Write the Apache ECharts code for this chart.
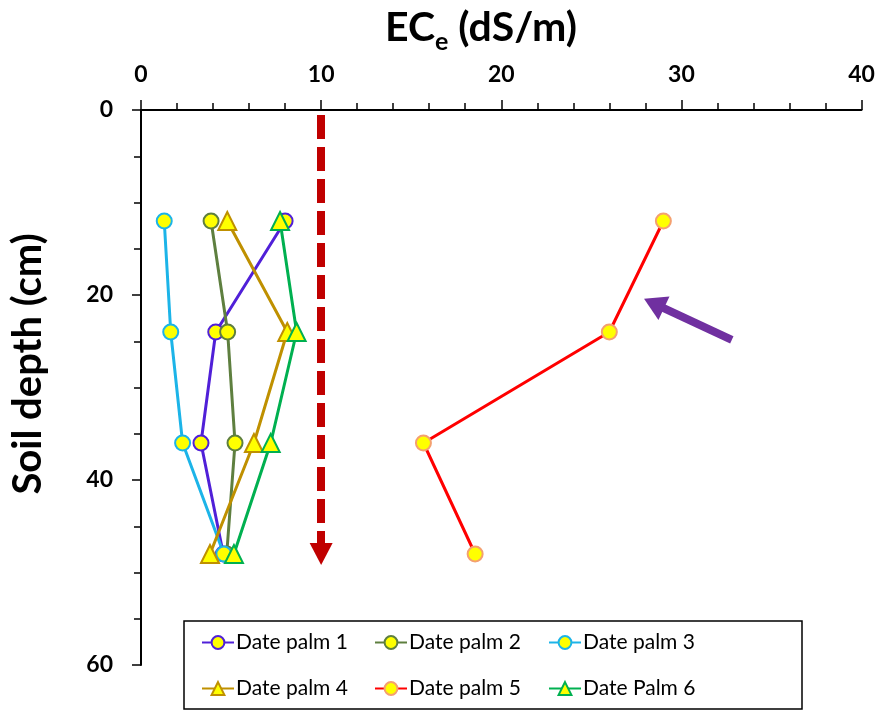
<!DOCTYPE html>
<html>
<head>
<meta charset="utf-8">
<script src="https://cdn.jsdelivr.net/npm/echarts@6/dist/echarts.min.js"></script>
<style>
html,body{margin:0;padding:0;background:#fff;}
#chart{width:879px;height:711px;}
</style>
</head>
<body>
<div id="chart"></div>
<script>
// Data
var depths = [12, 24, 36, 48];
var seriesNames = ['Date palm 1', 'Date palm 2', 'Date palm 3', 'Date palm 4', 'Date palm 5', 'Date Palm 6'];
var palm1 = [8.0, 4.15, 3.33, 4.57];
var palm2 = [3.89, 4.81, 5.22, 4.76];
var palm3 = [1.29, 1.65, 2.31, 4.6];
var palm4 = [4.79, 8.12, 6.27, 3.83];
var palm5 = [29.0, 26.0, 15.68, 18.55];
var palm6 = [7.72, 8.64, 7.2, 5.16];
var xTicks = [0, 10, 20, 30, 40];
var yTicks = [0, 20, 40, 60];
var thresholdEC = 10;
var thresholdDepth = [0.55, 48];
var arrowFrom = [32.8, 24.86];
var arrowTo = [28.48, 20.92];

var values = [palm1, palm2, palm3, palm4, palm5, palm6];
var lineColors = ['#5020D8', '#5E7F3F', '#1CB4E8', '#BF9000', '#FF0000', '#00B050'];
var borderColors = ['#5020D8', '#5E7F3F', '#1CB4E8', '#BF9000', '#F4A070', '#00B050'];
var symbols = ['circle', 'circle', 'circle', 'triangle', 'circle', 'triangle'];

var FONT = 'Lato';

function pairs(v) {
  return v.map(function (x, i) { return [x, depths[i]]; });
}

var series = values.map(function (v, i) {
  return {
    name: seriesNames[i],
    type: 'line',
    data: pairs(v),
    symbol: symbols[i],
    symbolSize: symbols[i] === 'triangle' ? 18 : 15,
    showAllSymbol: true,
    lineStyle: { color: lineColors[i], width: 3 },
    itemStyle: { color: '#FFFF00', borderColor: borderColors[i], borderWidth: 2 },
    z: 3
  };
});

series.push({
  name: 'annotations',
  type: 'line',
  data: [],
  markLine: {
    silent: true,
    animation: false,
    label: { show: false },
    emphasis: { disabled: true },
    data: [
      [
        { coord: [thresholdEC, thresholdDepth[0]], symbol: 'none',
          lineStyle: { color: '#C00000', width: 8, type: [24, 8] } },
        { coord: [thresholdEC, thresholdDepth[1]], symbol: 'triangle', symbolSize: [23, 22] }
      ],
      [
        { coord: arrowFrom, symbol: 'none',
          lineStyle: { color: '#7030A0', width: 8, type: 'solid' } },
        { coord: arrowTo, symbol: 'triangle', symbolSize: [26, 22] }
      ]
    ]
  }
});

var legendPos = [
  [201, 632], [374, 632], [548, 632],
  [201, 678], [374, 678], [548, 678]
];
var legends = seriesNames.map(function (n, i) {
  return {
    data: [n],
    left: legendPos[i][0],
    top: legendPos[i][1],
    padding: 0,
    itemWidth: 32,
    itemHeight: 16,
    itemGap: 0,
    selectedMode: false,
    textStyle: { fontFamily: FONT, fontSize: 21, color: '#000', padding: [0, 0, 0, -3] }
  };
});

var chart = echarts.init(document.getElementById('chart'));
chart.setOption({
  animation: false,
  backgroundColor: '#fff',
  title: {
    text: '{a|EC}{b|e}{a| (dS/m)}',
    left: 380,
    top: 2,
    textStyle: {
      rich: {
        a: { fontFamily: FONT, fontSize: 41, fontWeight: 'bold', color: '#000' },
        b: { fontFamily: FONT, fontSize: 25, fontWeight: 'bold', color: '#000', verticalAlign: 'bottom', padding: [0, 0, -6, 0] }
      }
    }
  },
  graphic: [
    {
      type: 'rect',
      shape: { x: 184, y: 621, width: 618, height: 88 },
      style: { fill: '#fff', stroke: '#000', lineWidth: 1.5 },
      z: 0
    },
    {
      type: 'text',
      x: 28,
      y: 364,
      rotation: Math.PI / 2,
      style: {
        text: 'Soil depth (cm)',
        font: 'bold 40px ' + FONT,
        fill: '#000',
        textAlign: 'center',
        textVerticalAlign: 'middle'
      }
    }
  ],
  legend: legends,
  grid: { left: 141, right: 17.5, top: 110, bottom: 46, containLabel: false },
  xAxis: {
    type: 'value',
    position: 'top',
    min: xTicks[0],
    max: xTicks[xTicks.length - 1],
    interval: 10,
    axisLine: { show: true, onZero: false, lineStyle: { color: '#000', width: 2 } },
    axisTick: { show: true, inside: false, length: 10, lineStyle: { color: '#000', width: 1.5 } },
    minorTick: { show: true, splitNumber: 5, length: 7, lineStyle: { color: '#000', width: 1.5 } },
    splitLine: { show: false },
    axisLabel: { margin: 24, fontFamily: FONT, fontSize: 23, fontWeight: 'bold', color: '#000' }
  },
  yAxis: {
    type: 'value',
    inverse: true,
    min: yTicks[0],
    max: yTicks[yTicks.length - 1],
    interval: 20,
    axisLine: { show: true, onZero: false, lineStyle: { color: '#000', width: 2 } },
    axisTick: { show: true, inside: false, length: 9, lineStyle: { color: '#000', width: 1.5 } },
    minorTick: { show: true, splitNumber: 4, length: 7, lineStyle: { color: '#000', width: 1.5 } },
    splitLine: { show: false },
    axisLabel: { margin: 28, fontFamily: FONT, fontSize: 23, fontWeight: 'bold', color: '#000' }
  },
  series: series
});
</script>
</body>
</html>
